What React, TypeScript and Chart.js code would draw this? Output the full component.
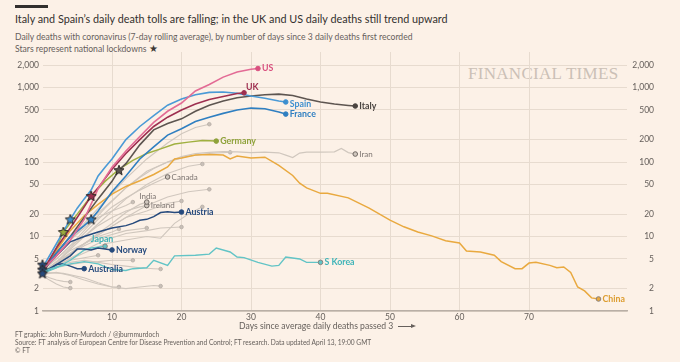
import React, { useEffect, useRef } from 'react';
import { Chart, registerables } from 'chart.js';
Chart.register(...registerables);

// ---------- DATA ----------
const yTickValues = [1, 2, 5, 10, 20, 50, 100, 200, 500, 1000, 2000];
const xTickValues = [10, 20, 30, 40, 50, 60, 70];

// [day, 7-day avg deaths]
const us = [[0,3.6],[2,5.5],[4,9],[6,17],[8,44],[10,85],[12,140],[14,220],[16,340],[18,480],[20,620],[22,900],[24,1100],[26,1380],[28,1620],[30,1760],[31,1800]];
const uk = [[0,3.4],[2,7],[4,13],[6,25],[7,35],[8,45],[10,80],[12,130],[14,200],[16,300],[18,400],[20,500],[22,600],[24,690],[26,760],[28,830],[29,850]];
const spain = [[0,3.8],[2,8],[4,17],[5,24],[6,32],[7,42],[8,65],[9,85],[10,110],[12,200],[14,300],[16,420],[18,580],[20,700],[22,800],[24,860],[26,870],[28,840],[30,770],[32,720],[34,660],[35,640]];
const italy = [[0,3.3],[2,6],[4,10],[6,18],[8,32],[10,55],[11,78],[12,95],[14,170],[16,270],[18,330],[20,380],[22,480],[24,580],[26,660],[28,730],[30,770],[32,800],[34,815],[36,780],[38,700],[40,640],[42,600],[44,575],[45,565]];
const france = [[0,3.5],[2,6],[4,10],[6,14],[7,17],[8,22],[10,40],[12,65],[14,110],[16,160],[18,230],[20,280],[22,350],[24,400],[26,450],[28,500],[30,530],[32,520],[34,470],[35,440]];
const germany = [[0,3.3],[2,7],[3,11.5],[5,20],[7,35],[9,55],[11,80],[13,105],[15,130],[17,150],[19,175],[21,185],[23,195],[25,191]];
const china = [[0,3.5],[2,6.5],[4,12],[6,19],[8,27],[10,37],[12,47],[14,56],[16,68],[18,86],[19,110],[20,113],[22,124],[24,126],[26,124],[27,110],[28,120],[30,113],[32,116],[34,90],[36,66],[37,52],[38,45],[40,38],[41,38],[44,33],[47,24],[50,16.6],[52,13.5],[54,11.5],[56,10.2],[58,8.8],[60,8.2],[61,6.4],[63,6.2],[65,5.6],[66,4.6],[68,3.7],[69,3.7],[70,4.4],[71,4.5],[73,4.1],[74,3.8],[75,3.9],[76,3.3],[77,2.1],[78,1.86],[79,1.5],[80,1.45]];
const iran = [[0,3.5],[3,7],[6,14],[9,25],[12,45],[14,62],[16,82],[18,100],[20,118],[22,130],[24,135],[26,138],[28,137],[30,134],[32,136],[34,133],[35,124],[36,115],[37,132],[38,136],[40,136],[42,137],[43,152],[44,134],[45,128]];
const canada = [[0,3.2],[2,4.5],[4,7],[6,11],[8,17],[10,25],[12,33],[14,42],[16,52],[18,63]];
const india = [[0,3.3],[2,4.5],[4,6],[6,8],[8,11],[10,15],[12,21],[14,27],[15,29]];
const ireland = [[0,3.5],[2,5],[4,7.5],[6,10],[8,14],[10,18],[12,22],[14,25],[15,26]];
const austria = [[0,3.5],[2,5.5],[4,8.5],[6,10],[8,11.5],[10,13],[12,14],[13,15],[14,16.5],[15,17],[16,18.5],[17,21],[18,21.5],[19,21],[20,21.3]];
const norway = [[0,3.3],[2,4.2],[4,5.5],[5,6.8],[6,6.8],[7,6.6],[8,7],[9,6.8],[10,6.6]];
const japan = [[0,3.2],[2,3.8],[4,4.8],[5,5.6],[6,6.6],[7,7],[8,7.2],[9,7.4]];
const australia = [[0,3.3],[1,3.6],[2,4.2],[3,4.3],[4,4],[5,3.7],[6,3.7]];
const sKorea = [[0,3.4],[2,3.9],[4,4.3],[6,4.6],[8,4.3],[10,3.6],[12,3.5],[13,3.7],[15,3.8],[16,4.8],[18,4.1],[19,5.5],[22,5.6],[24,5.8],[25,7],[27,6.2],[28,5.3],[29,5.2],[31,4.5],[33,4.0],[34,4.1],[35,5.3],[37,5.0],[38,4.5],[40,4.5]];

// unlabelled countries (grey)
const grey1 = [[0,3.5],[3,7],[6,15],[9,30],[12,60],[15,110],[18,180],[20,240],[22,290],[24,322]];
const grey2 = [[0,3.6],[3,6],[6,12],[9,24],[12,45],[15,75],[18,100],[21,120],[24,130],[27,135]];
const grey3 = [[0,3.3],[3,5.5],[6,10],[9,18],[12,32],[15,50],[18,70],[21,88],[23,94]];
const grey4 = [[0,3.2],[3,5],[6,8],[9,12],[12,18],[15,26],[18,34],[21,40],[24,43]];
const grey5 = [[0,3.4],[3,5],[6,8],[9,12],[12,18],[15,22],[18,28],[20,30]];
const grey6 = [[0,3.1],[3,4.5],[6,6],[9,8],[12,9],[15,10],[17,9.5],[19,15],[21,20],[23,25]];
const grey7 = [[0,3.2],[3,4.5],[6,6.5],[9,9],[12,11],[15,12],[17,13],[20,13.4]];
const grey8 = [[0,3.3],[3,5],[6,7.5],[9,10],[12,12],[15,13]];
const grey9 = [[0,3.2],[2,4],[4,4.5],[6,4.8],[8,4.5],[10,4.2],[12,4],[14,3.8],[16,3.7],[17,3.66]];
const grey10 = [[0,3.1],[2,3.3],[4,3],[6,2.6],[8,2.3],[10,2.1],[12,2],[14,2.1],[16,2.2],[17,2.16]];
const grey11 = [[0,3.4],[2,6],[4,9],[6,13],[8,18],[10,22],[12,26],[13,29]];
const grey12 = [[0,3.2],[2,4.5],[4,6.5],[6,8],[8,10],[10,11.5],[11,12.6]];
const grey13 = [[0,3.3],[2,3.8],[4,4.2],[6,4.5],[8,4.6],[10,4.8],[12,4.8],[13,4.8]];
const grey14 = [[0,3.2],[2,4],[4,4.8],[6,5.2],[8,5.6]];
const grey15 = [[0,3.1],[1,2.8],[2,2.6],[3,2.5],[4,2.45]];
const grey16 = [[0,3.0],[1,2.6],[2,2.3],[3,2.1],[4,2.03]];
const grey17 = [[0,3.3],[3,3.2],[6,2.8],[8,2.4],[10,2.1],[11,2.1]];

// national lockdown stars
const starDays = [11, 7, 4, 7, 3, 0, 0, 0];
const starValues = [78, 35, 17, 17, 11.5, 4.2, 3.6, 3.2];
const starFills = ['#5d5550', '#9e2f50', '#3d8fcf', '#2f7fc1', '#9aab3c', '#264a7d', '#264a7d', '#264a7d'];

// ---------- STYLE ----------
const BG = '#fcf1e7';
const GRID = '#e7dbcf';
const TEXT = '#66605c';
const GREY_LINE = '#d0c7be';
const FONT = 'Lato, "Open Sans", sans-serif';

type Lab = { text: string; color: string; bold: boolean; dx: number; dy: number; align?: CanvasTextAlign };

const named: { data: number[][]; color: string; width: number; label: Lab; dot?: string }[] = [
  { data: us, color: '#e36b95', width: 1.6, label: { text: 'US', color: '#d9507f', bold: true, dx: 4, dy: 0 } },
  { data: uk, color: '#9e2f50', width: 1.6, label: { text: 'UK', color: '#9e2f50', bold: true, dx: 2, dy: -6 } },
  { data: spain, color: '#4a9ad6', width: 1.6, label: { text: 'Spain', color: '#3d8fcf', bold: true, dx: 4, dy: 2 } },
  { data: france, color: '#2f7fc1', width: 1.6, label: { text: 'France', color: '#2f7fc1', bold: true, dx: 4, dy: 0 } },
  { data: italy, color: '#5d5550', width: 1.6, label: { text: 'Italy', color: '#4a4440', bold: true, dx: 4, dy: 0 } },
  { data: germany, color: '#a0b040', width: 1.5, label: { text: 'Germany', color: '#8fa23a', bold: true, dx: 4, dy: 0 } },
  { data: china, color: '#e9a93f', width: 1.5, label: { text: 'China', color: '#dd9d30', bold: true, dx: 4, dy: 0 }, dot: '#8a817c' },
  { data: sKorea, color: '#62c4c6', width: 1.4, label: { text: 'S Korea', color: '#3fb4b8', bold: true, dx: 4, dy: 0 }, dot: '#8a817c' },
  { data: austria, color: '#264a7d', width: 1.5, label: { text: 'Austria', color: '#264a7d', bold: true, dx: 4, dy: 0 } },
  { data: norway, color: '#264a7d', width: 1.5, label: { text: 'Norway', color: '#264a7d', bold: true, dx: 4, dy: 0 } },
  { data: japan, color: '#62c4c6', width: 1.4, label: { text: 'Japan', color: '#3fb4b8', bold: true, dx: -3, dy: -7, align: 'center' }, dot: '#8a817c' },
  { data: australia, color: '#264a7d', width: 1.5, label: { text: 'Australia', color: '#264a7d', bold: true, dx: 4, dy: 0 } },
  { data: iran, color: GREY_LINE, width: 1.2, label: { text: 'Iran', color: '#7d7571', bold: false, dx: 4, dy: 0 }, dot: '#6e6661' },
  { data: canada, color: GREY_LINE, width: 1.2, label: { text: 'Canada', color: '#7d7571', bold: false, dx: 4, dy: 0 }, dot: '#6e6661' },
  { data: india, color: GREY_LINE, width: 1.2, label: { text: 'India', color: '#7d7571', bold: false, dx: 1, dy: -6, align: 'center' }, dot: '#6e6661' },
  { data: ireland, color: GREY_LINE, width: 1.2, label: { text: 'Ireland', color: '#7d7571', bold: false, dx: 4, dy: 0 }, dot: '#6e6661' },
];

const greys = [grey1, grey2, grey3, grey4, grey5, grey6, grey7, grey8, grey9, grey10, grey11, grey12, grey13, grey14, grey15, grey16, grey17];

function makeStar(fill: string): HTMLCanvasElement {
  const c = document.createElement('canvas');
  c.width = 12; c.height = 12;
  const g = c.getContext('2d')!;
  g.beginPath();
  for (let i = 0; i < 10; i++) {
    const r = i % 2 === 0 ? 5.3 : 2.3;
    const a = -Math.PI / 2 + (i * Math.PI) / 5;
    const px = 6 + r * Math.cos(a);
    const py = 6.4 + r * Math.sin(a);
    if (i === 0) g.moveTo(px, py); else g.lineTo(px, py);
  }
  g.closePath();
  g.fillStyle = fill;
  g.fill();
  g.lineWidth = 1;
  g.strokeStyle = '#2f2a27';
  g.stroke();
  return c;
}

const endLabels = {
  id: 'endLabels',
  afterDatasetsDraw(chart: any) {
    const ctx = chart.ctx;
    chart.data.datasets.forEach((ds: any, i: number) => {
      const lab: Lab | undefined = ds.endLabel;
      if (!lab) return;
      const meta = chart.getDatasetMeta(i);
      const pt = meta.data[meta.data.length - 1];
      if (!pt) return;
      ctx.save();
      ctx.font = `${lab.bold ? 'bold ' : ''}${lab.bold ? 8.8 : 8}px ${FONT}`;
      ctx.fillStyle = lab.color;
      ctx.textAlign = lab.align || 'left';
      ctx.textBaseline = 'middle';
      ctx.fillText(lab.text, pt.x + lab.dx, pt.y + lab.dy);
      ctx.restore();
    });
  },
};

const toXY = (arr: number[][]) => arr.map(([x, y]) => ({ x, y }));

export default function App() {
  const ref = useRef<HTMLCanvasElement>(null);

  useEffect(() => {
    if (!ref.current) return;
    const starImgs = starFills.map(makeStar);
    const lastRadius = (r: number) => (c: any) => (c.dataIndex === c.dataset.data.length - 1 ? r : 0);

    const datasets: any[] = [];
    datasets.push({
      type: 'scatter',
      data: starDays.map((d, i) => ({ x: d, y: starValues[i] })),
      pointStyle: (c: any) => starImgs[c.dataIndex],
      pointRadius: 6,
      showLine: false,
      clip: false,
      order: 0,
    });
    named.forEach((s) => {
      datasets.push({
        type: 'line',
        data: toXY(s.data),
        borderColor: s.color,
        borderWidth: s.width,
        pointRadius: lastRadius(2.3),
        pointBackgroundColor: s.dot ? s.color : s.label.color,
        pointBorderColor: s.dot || s.label.color,
        pointBorderWidth: 1,
        tension: 0,
        clip: false,
        order: 1,
        endLabel: s.label,
      });
    });
    greys.forEach((g) => {
      datasets.push({
        type: 'line',
        data: toXY(g),
        borderColor: GREY_LINE,
        borderWidth: 1.1,
        pointRadius: lastRadius(1.8),
        pointBackgroundColor: '#c9c0b8',
        pointBorderColor: '#b5aca4',
        pointBorderWidth: 0.8,
        tension: 0,
        clip: false,
        order: 2,
      });
    });

    const yTicksCb = (v: any) => Number(v).toLocaleString('en-US');
    const chart = new Chart(ref.current, {
      type: 'line',
      data: { datasets },
      plugins: [endLabels],
      options: {
        animation: false,
        responsive: false,
        events: [],
        layout: { padding: { top: 52, right: 26, left: 0, bottom: 0 } },
        plugins: { legend: { display: false }, tooltip: { enabled: false } },
        scales: {
          x: {
            type: 'linear',
            min: 0,
            max: 84.1,
            afterBuildTicks: (s: any) => { s.ticks = xTickValues.map((v) => ({ value: v })); },
            afterFit: (s: any) => { s.height = 51; },
            grid: { color: GRID, lineWidth: 1, drawTicks: false },
            border: { display: true, color: '#b9afa6', width: 1.5 },
            ticks: { color: TEXT, font: { family: FONT, size: 8.5 }, padding: 1, maxRotation: 0 },
          },
          y: {
            type: 'logarithmic',
            position: 'left',
            min: 1,
            max: 3000,
            afterBuildTicks: (s: any) => { s.ticks = yTickValues.map((v) => ({ value: v })); },
            afterFit: (s: any) => { s.width = 42.5; },
            grid: { color: GRID, lineWidth: 1, drawTicks: false },
            border: { display: false },
            ticks: { color: TEXT, font: { family: FONT, size: 8.5 }, padding: 3.5, callback: yTicksCb },
          },
          y2: {
            type: 'logarithmic',
            position: 'right',
            min: 1,
            max: 3000,
            afterBuildTicks: (s: any) => { s.ticks = yTickValues.map((v) => ({ value: v })); },
            afterFit: (s: any) => { s.width = 27; },
            grid: { display: false, drawTicks: false },
            border: { display: false },
            ticks: { color: TEXT, font: { family: FONT, size: 8.5 }, padding: 0, crossAlign: 'far', callback: yTicksCb },
          },
        },
      } as any,
    });
    return () => chart.destroy();
  }, []);

  const abs = (s: React.CSSProperties): React.CSSProperties => ({ position: 'absolute', whiteSpace: 'nowrap', ...s });

  return (
    <div style={{ position: 'relative', width: 680, height: 362, background: BG, overflow: 'hidden', fontFamily: FONT }}>
      <style>{`body{margin:0;background:${BG};}`}</style>
      <div style={abs({ left: 15, top: 5, width: 33, height: 2.5, background: '#33302e' })} />
      <div style={abs({ left: 15, top: 11.5, fontSize: 10.8, lineHeight: '14px', color: '#33302e' })}>
        Italy and Spain’s daily death tolls are falling; in the UK and US daily deaths still trend upward
      </div>
      <div style={abs({ left: 15, top: 31, fontSize: 8.6, lineHeight: '12px', color: TEXT })}>
        Daily deaths with coronavirus (7-day rolling average), by number of days since 3 daily deaths first recorded
        <br />
        Stars represent national lockdowns <span style={{ color: '#3d3835', fontSize: 9.5 }}>★</span>
      </div>
      <div style={abs({ left: 468, top: 64, fontFamily: '"Liberation Serif", "DejaVu Serif", serif', fontSize: 17, letterSpacing: 0.3, color: '#cbc0b6', lineHeight: '20px' })}>
        FINANCIAL TIMES
      </div>
      <canvas ref={ref} width={680} height={362} style={{ position: 'absolute', left: 0, top: 0 }} />
      <div style={abs({ left: 239, top: 320, fontSize: 8.65, lineHeight: '12px', color: TEXT })}>
        Days since average daily deaths passed 3
      </div>
      <div style={abs({ left: 398, top: 325.5, width: 13, height: 1, background: '#66605c' })} />
      <div style={abs({ left: 411, top: 323.5, width: 0, height: 0, borderTop: '2.5px solid transparent', borderBottom: '2.5px solid transparent', borderLeft: '5px solid #66605c' })} />
      <div style={abs({ left: 15, top: 331, fontSize: 6.6, lineHeight: '7.8px', color: TEXT })}>
        FT graphic: John Burn-Murdoch / @jburnmurdoch
        <br />
        Source: FT analysis of European Centre for Disease Prevention and Control; FT research. Data updated April 13, 19:00 GMT
        <br />
        © FT
      </div>
    </div>
  );
}
